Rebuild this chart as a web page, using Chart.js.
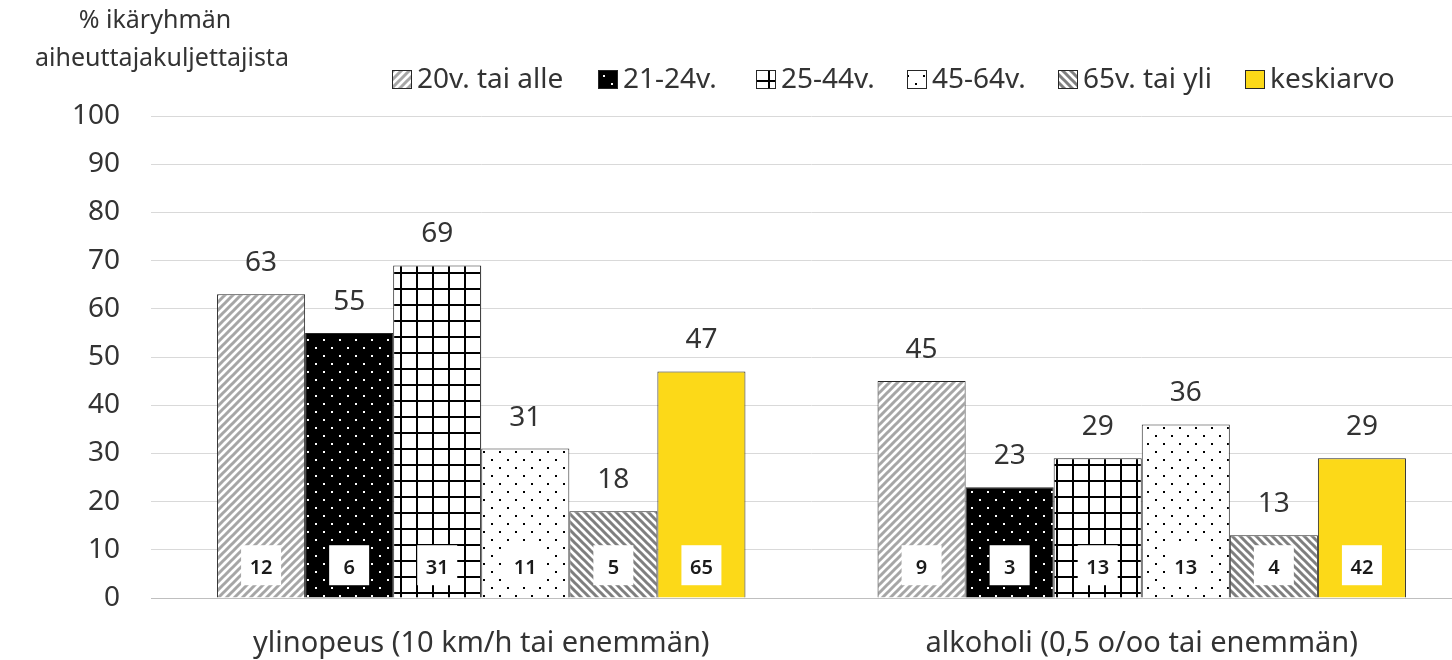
<html>
	<head>
		<script src="https://cdn.jsdelivr.net/npm/chart.js"></script>
		<style>
			body { margin: 0; overflow: hidden; background: #fff; }
		</style>
	</head>

	<body>
		<div style="width: 1472px; height: 660px">
			<canvas id="myChart" width="1472" height="660"></canvas>
		</div>

		<script>
			const categories = ['ylinopeus (10 km/h tai enemmän)', 'alkoholi (0,5 o/oo tai enemmän)'];
			const groups = ['20v. tai alle', '21-24v.', '25-44v.', '45-64v.', '65v. tai yli', 'keskiarvo'];

			// % ikäryhmän aiheuttajakuljettajista
			const pct20 = [63, 45];
			const pct21 = [55, 23];
			const pct25 = [69, 29];
			const pct45 = [31, 36];
			const pct65 = [18, 13];
			const pctAvg = [47, 29];

			// small numbers in the white boxes
			const n20 = [12, 9];
			const n21 = [6, 3];
			const n25 = [31, 13];
			const n45 = [11, 13];
			const n65 = [5, 4];
			const nAvg = [65, 42];

			const yTicks = [0, 10, 20, 30, 40, 50, 60, 70, 80, 90, 100];
			const titleLines = ['% ikäryhmän', 'aiheuttajakuljettajista'];

			const FONT = '"Noto Sans", "Open Sans", sans-serif';
			const TEXT = '#333';

			function makePattern(size, draw) {
				const c = document.createElement('canvas');
				c.width = size;
				c.height = size;
				const g = c.getContext('2d');
				draw(g, size);
				return document.getElementById('myChart').getContext('2d').createPattern(c, 'repeat');
			}

			const stripesUp = makePattern(8, (g, s) => {
				g.fillStyle = '#fff';
				g.fillRect(0, 0, s, s);
				g.strokeStyle = '#a6a6a6';
				g.lineWidth = 3;
				g.beginPath();
				g.moveTo(-2, s + 2); g.lineTo(s + 2, -2);
				g.moveTo(-2, 2); g.lineTo(2, -2);
				g.moveTo(s - 2, s + 2); g.lineTo(s + 2, s - 2);
				g.stroke();
			});
			const blackDots = makePattern(16, (g, s) => {
				g.fillStyle = '#000';
				g.fillRect(0, 0, s, s);
				g.fillStyle = '#fff';
				g.fillRect(3, 3, 2, 2);
				g.fillRect(11, 11, 2, 2);
			});
			const grid = makePattern(16, (g, s) => {
				g.fillStyle = '#fff';
				g.fillRect(0, 0, s, s);
				g.fillStyle = '#000';
				g.fillRect(0, 0, 2, s);
				g.fillRect(0, 0, s, 2);
			});
			const whiteDots = makePattern(16, (g, s) => {
				g.fillStyle = '#fff';
				g.fillRect(0, 0, s, s);
				g.fillStyle = '#000';
				g.fillRect(3, 3, 2, 2);
				g.fillRect(11, 11, 2, 2);
			});
			const stripesDown = makePattern(8, (g, s) => {
				g.fillStyle = '#fff';
				g.fillRect(0, 0, s, s);
				g.strokeStyle = '#7f7f7f';
				g.lineWidth = 3;
				g.beginPath();
				g.moveTo(-2, -2); g.lineTo(s + 2, s + 2);
				g.moveTo(s - 2, -2); g.lineTo(s + 2, 2);
				g.moveTo(-2, s - 2); g.lineTo(2, s + 2);
				g.stroke();
			});
			const yellow = '#fcd918';

			const fills = [stripesUp, blackDots, grid, whiteDots, stripesDown, yellow];
			const values = [pct20, pct21, pct25, pct45, pct65, pctAvg];
			const counts = [n20, n21, n25, n45, n65, nAvg];

			const data = {
				labels: categories,
				datasets: groups.map((g, i) => ({
					label: g,
					data: values[i],
					counts: counts[i],
					backgroundColor: fills[i],
					borderColor: '#262626',
					borderWidth: 1,
					categoryPercentage: 0.8,
					barPercentage: 1.0,
				})),
			};

			const boxLevel = 6.8;
			const legendX = [392, 598, 756, 907, 1058, 1245];

			const extras = {
				id: 'extras',
				afterDatasetsDraw(chart) {
					const ctx = chart.ctx;
					const ys = chart.scales.y;
					ctx.save();
					chart.data.datasets.forEach((ds, i) => {
						const meta = chart.getDatasetMeta(i);
						meta.data.forEach((bar, j) => {
							ctx.fillStyle = TEXT;
							ctx.font = '28px ' + FONT;
							ctx.textAlign = 'center';
							ctx.textBaseline = 'middle';
							ctx.fillText(String(ds.data[j]), bar.x, bar.y - 31);

							const cy = ys.getPixelForValue(boxLevel);
							ctx.fillStyle = '#fff';
							ctx.fillRect(bar.x - 20, cy - 20, 40, 40);
							ctx.fillStyle = '#1a1a1a';
							ctx.font = '600 20px ' + FONT;
							ctx.fillText(String(ds.counts[j]), bar.x, cy + 3);
						});
					});
					ctx.restore();
				},
				afterDraw(chart) {
					const ctx = chart.ctx;
					ctx.save();
					ctx.fillStyle = TEXT;
					ctx.font = '25px ' + FONT;
					ctx.textAlign = 'center';
					ctx.textBaseline = 'middle';
					ctx.fillText(titleLines[0], 155, 21);
					ctx.fillText(titleLines[1], 162, 59);

					// legend
					const ly = 80;
					ctx.font = '28px ' + FONT;
					ctx.textAlign = 'left';
					chart.data.datasets.forEach((ds, i) => {
						const x = legendX[i];
						ctx.fillStyle = ds.backgroundColor;
						ctx.fillRect(x, ly - 10, 20, 19);
						ctx.strokeStyle = '#262626';
						ctx.lineWidth = 1;
						ctx.strokeRect(x + 0.5, ly - 9.5, 19, 18);
						ctx.fillStyle = TEXT;
						ctx.fillText(ds.label, x + 25, ly);
					});
					ctx.restore();
				},
			};

			const options = {
				animation: false,
				responsive: false,
				layout: {
					padding: { top: 116, right: 0, left: 0, bottom: 0 },
				},
				scales: {
					x: {
						grid: { display: false },
						border: { color: '#bfbfbf', width: 1 },
						ticks: {
							color: TEXT,
							font: { family: FONT, size: 29 },
							padding: 20,
						},
						afterFit(scale) {
							scale.height = 62;
						},
					},
					y: {
						min: 0,
						max: 100,
						afterBuildTicks(scale) {
							scale.ticks = yTicks.map((v) => ({ value: v }));
						},
						grid: { color: '#d9d9d9', drawTicks: false },
						border: { display: false },
						ticks: {
							color: TEXT,
							font: { family: FONT, size: 28 },
							padding: 31,
						},
						afterFit(scale) {
							scale.width = 151;
						},
					},
				},
				plugins: {
					legend: { display: false },
					tooltip: { enabled: false },
				},
			};

			const config = {
				type: 'bar',
				data,
				options,
				plugins: [extras],
			};
			var myChart = new Chart(document.getElementById('myChart'), config);
		</script>
	</body>
</html>
